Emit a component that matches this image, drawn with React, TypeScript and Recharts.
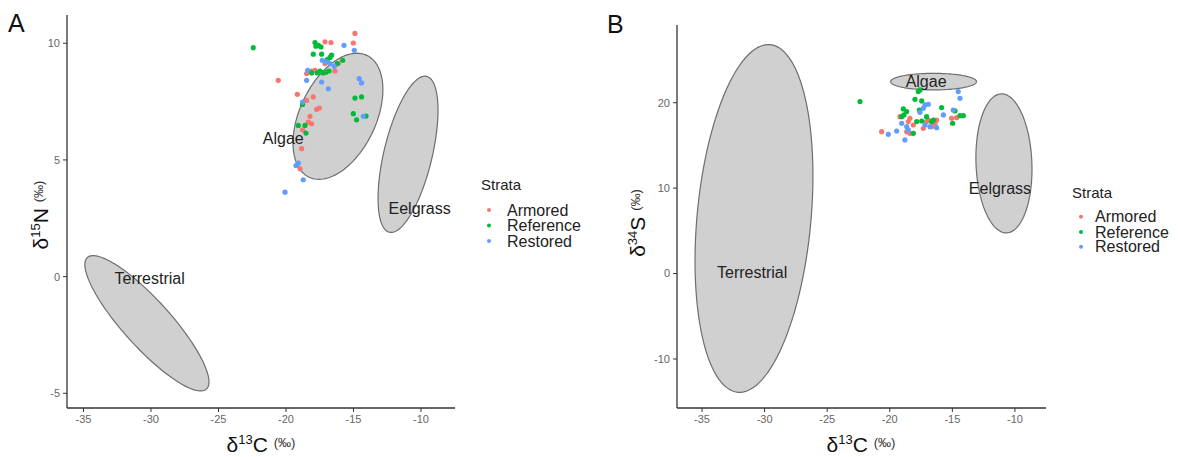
import React from 'react';
import { ScatterChart, Scatter, XAxis, YAxis } from 'recharts';

const FONT = '"Liberation Sans", Arial, sans-serif';

// Panel A: d13C vs d15N
const armoredCN = [
  { x: -14.89, y: 10.42 }, { x: -15.01, y: 10.01 }, { x: -17.11, y: 10.06 }, { x: -16.67, y: 10.03 },
  { x: -20.57, y: 8.41 }, { x: -18.47, y: 8.7 }, { x: -18.1, y: 8.81 }, { x: -17.85, y: 8.84 },
  { x: -16.37, y: 8.81 }, { x: -16.12, y: 9.13 }, { x: -17.11, y: 9.13 }, { x: -19.16, y: 7.81 },
  { x: -18.47, y: 7.55 }, { x: -17.98, y: 7.7 }, { x: -17.73, y: 7.17 }, { x: -17.53, y: 7.22 },
  { x: -18.22, y: 6.87 }, { x: -18.35, y: 6.62 }, { x: -18.1, y: 6.55 }, { x: -18.77, y: 6.29 },
  { x: -18.84, y: 5.48 }, { x: -18.96, y: 4.62 },
];
const referenceCN = [
  { x: -22.42, y: 9.81 }, { x: -17.85, y: 10.03 }, { x: -17.6, y: 9.91 }, { x: -17.41, y: 9.84 },
  { x: -17.78, y: 9.87 }, { x: -17.98, y: 9.53 }, { x: -17.36, y: 9.53 }, { x: -16.62, y: 9.49 },
  { x: -16.74, y: 9.39 }, { x: -16.94, y: 9.3 }, { x: -15.8, y: 9.27 }, { x: -16.2, y: 9.13 },
  { x: -18.1, y: 8.73 }, { x: -17.68, y: 8.73 }, { x: -17.48, y: 8.81 }, { x: -17.23, y: 8.73 },
  { x: -17.04, y: 8.76 }, { x: -16.81, y: 8.81 }, { x: -14.89, y: 7.65 }, { x: -14.4, y: 7.7 },
  { x: -15.01, y: 6.98 }, { x: -14.77, y: 6.72 }, { x: -14.07, y: 6.88 }, { x: -18.77, y: 7.38 },
  { x: -19.09, y: 6.48 }, { x: -18.59, y: 6.48 }, { x: -18.52, y: 6.15 },
];
const restoredCN = [
  { x: -15.7, y: 9.91 }, { x: -14.94, y: 9.7 }, { x: -17.31, y: 9.27 }, { x: -16.99, y: 9.2 },
  { x: -16.74, y: 9.13 }, { x: -16.42, y: 9.01 }, { x: -18.39, y: 8.84 }, { x: -18.47, y: 8.41 },
  { x: -17.36, y: 8.34 }, { x: -16.86, y: 8.05 }, { x: -14.57, y: 8.48 }, { x: -14.4, y: 8.3 },
  { x: -18.77, y: 7.48 }, { x: -14.27, y: 6.87 }, { x: -19.26, y: 4.76 }, { x: -19.09, y: 4.86 },
  { x: -18.72, y: 4.15 }, { x: -20.07, y: 3.62 },
];

// Panel B: d13C vs d34S
const armoredCS = [
  { x: -20.65, y: 16.61 }, { x: -19.19, y: 18.37 }, { x: -18.39, y: 18.18 }, { x: -18.52, y: 17.79 },
  { x: -18.12, y: 17.39 }, { x: -17.06, y: 17.79 }, { x: -16.92, y: 17.98 }, { x: -16.26, y: 17.98 },
  { x: -16.39, y: 17.59 }, { x: -16.66, y: 17.2 }, { x: -17.32, y: 17.0 }, { x: -18.65, y: 16.61 },
  { x: -18.39, y: 16.42 }, { x: -15.06, y: 18.18 }, { x: -14.66, y: 18.25 },
];
const referenceCS = [
  { x: -22.38, y: 20.13 }, { x: -17.72, y: 21.3 }, { x: -17.59, y: 21.5 }, { x: -17.99, y: 20.4 },
  { x: -17.45, y: 20.21 }, { x: -18.92, y: 19.27 }, { x: -18.65, y: 18.96 }, { x: -18.87, y: 18.57 },
  { x: -19.05, y: 18.37 }, { x: -15.86, y: 19.43 }, { x: -14.79, y: 19.04 }, { x: -14.39, y: 18.49 },
  { x: -14.13, y: 18.49 }, { x: -14.98, y: 17.59 }, { x: -16.52, y: 17.98 }, { x: -17.06, y: 18.37 },
  { x: -17.45, y: 17.86 }, { x: -17.85, y: 17.79 }, { x: -18.12, y: 16.42 }, { x: -16.66, y: 17.79 },
  { x: -17.64, y: 19.15 },
];
const restoredCS = [
  { x: -20.12, y: 16.3 }, { x: -19.45, y: 16.69 }, { x: -18.79, y: 15.64 }, { x: -19.05, y: 17.59 },
  { x: -18.65, y: 17.2 }, { x: -18.52, y: 16.81 }, { x: -17.19, y: 19.74 }, { x: -16.92, y: 19.82 },
  { x: -17.32, y: 19.35 }, { x: -17.59, y: 18.88 }, { x: -15.72, y: 18.57 }, { x: -14.93, y: 19.15 },
  { x: -14.53, y: 21.3 }, { x: -14.39, y: 20.52 }, { x: -17.19, y: 17.39 }, { x: -16.79, y: 17.2 },
  { x: -16.26, y: 17.08 },
];

// Source ellipses: centre and two half-axis vectors (data units)
const ellipsesA = [
  { name: 'Algae', cx: -16.15, cy: 6.87, ax: 2.14, ay: 2.61, bx: -2.55, by: 0.7 },
  { name: 'Eelgrass', cx: -10.96, cy: 5.24, ax: 1.38, ay: 3.34, bx: -1.74, by: 0.24 },
  { name: 'Terrestrial', cx: -30.3, cy: -2.0, ax: 4.41, ay: -2.82, bx: 1.3, by: 0.68 },
];
const ellipsesB = [
  { name: 'Algae', cx: -16.5, cy: 22.47, ax: 3.43, ay: 0, bx: 0, by: 0.97 },
  { name: 'Eelgrass', cx: -10.88, cy: 12.9, ax: -0.22, ay: 8.14, bx: 2.23, by: 0.13 },
  { name: 'Terrestrial', cx: -30.85, cy: 6.45, ax: 1.29, ay: 20.35, bx: -4.53, by: 0.62 },
];
const labelsA = [
  { name: 'Algae', x: -20.2, y: 5.9 },
  { name: 'Eelgrass', x: -10.1, y: 2.9 },
  { name: 'Terrestrial', x: -30.1, y: -0.1 },
];
const labelsB = [
  { name: 'Algae', x: -17.1, y: 22.5 },
  { name: 'Eelgrass', x: -11.2, y: 10.0 },
  { name: 'Terrestrial', x: -31.0, y: 0.1 },
];

const xTicks = [-35, -30, -25, -20, -15, -10];
const yTicksA = [-5, 0, 5, 10];
const yTicksB = [-10, 0, 10, 20];
const strata = ['Armored', 'Reference', 'Restored'];
const colors = ['#F8766D', '#00BA38', '#619CFF'];

type Ell = { name: string; cx: number; cy: number; ax: number; ay: number; bx: number; by: number };
function outline(e: Ell) {
  const pts: { x: number; y: number }[] = [];
  const n = 120;
  for (let i = 0; i <= n; i++) {
    const t = (2 * Math.PI * i) / n;
    pts.push({ x: e.cx + Math.cos(t) * e.ax + Math.sin(t) * e.bx, y: e.cy + Math.cos(t) * e.ay + Math.sin(t) * e.by });
  }
  return pts;
}

const dot = (color: string) => (p: any) => <circle cx={p.cx} cy={p.cy} r={2.6} fill={color} />;
const labelShape = (p: any) => (
  <text x={p.cx} y={p.cy} textAnchor="middle" dominantBaseline="central" fontSize={16} fill="#222" fontFamily={FONT}>
    {p.payload.name}
  </text>
);
const noShape = () => <g />;

const axisStroke = '#333';
const tickStyle = { fontSize: 11, fill: '#666', fontFamily: FONT };

function Panel(props: {
  width: number; yWidth: number; top: number; right: number;
  xDomain: [number, number]; yDomain: [number, number]; yTicks: number[];
  ellipses: Ell[]; labels: { name: string; x: number; y: number }[];
  series: { x: number; y: number }[][];
}) {
  return (
    <ScatterChart width={props.width} height={457} margin={{ top: props.top, right: props.right, bottom: 0, left: 0 }}>
      <XAxis type="number" dataKey="x" domain={props.xDomain} ticks={xTicks} allowDataOverflow height={49}
        axisLine={{ stroke: axisStroke, strokeWidth: 1.3 }} tickLine={{ stroke: axisStroke }} tickSize={4} tickMargin={3} tick={tickStyle} />
      <YAxis type="number" dataKey="y" domain={props.yDomain} ticks={props.yTicks} allowDataOverflow width={props.yWidth}
        axisLine={{ stroke: axisStroke, strokeWidth: 1.3 }} tickLine={{ stroke: axisStroke }} tickSize={4} tickMargin={3} tick={tickStyle} />
      {props.ellipses.map((e) => (
        <Scatter key={e.name} data={outline(e)} isAnimationActive={false} shape={noShape} legendType="none"
          line={{ fill: '#D0D0D0', stroke: '#6E6E6E', strokeWidth: 1.2 }} lineType="joint" />
      ))}
      <Scatter data={props.labels} isAnimationActive={false} shape={labelShape} legendType="none" />
      {props.series.map((s, i) => (
        <Scatter key={strata[i]} name={strata[i]} data={s} isAnimationActive={false} shape={dot(colors[i])} />
      ))}
    </ScatterChart>
  );
}

function Legend2(props: { titleX: number; titleY: number; dotX: number; textX: number; rows: number[] }) {
  return (
    <g fontFamily={FONT}>
      <text x={props.titleX} y={props.titleY} fontSize={15} fill="#222">Strata</text>
      {strata.map((s, i) => (
        <g key={s}>
          <circle cx={props.dotX} cy={props.rows[i]} r={2} fill={colors[i]} />
          <text x={props.textX} y={props.rows[i] + 5.7} fontSize={16} fill="#222">{s}</text>
        </g>
      ))}
    </g>
  );
}

export default function App() {
  return (
    <div style={{ position: 'absolute', left: 0, top: 0, width: 1180, height: 457, background: '#fff' }}>
      <div style={{ position: 'absolute', left: 0, top: 0 }}>
        <Panel width={600} yWidth={67} top={15} right={145} xDomain={[-36.22, -7.48]} yDomain={[-5.63, 11.21]}
          yTicks={yTicksA} ellipses={ellipsesA} labels={labelsA} series={[armoredCN, referenceCN, restoredCN]} />
      </div>
      <div style={{ position: 'absolute', left: 600, top: 0 }}>
        <Panel width={580} yWidth={77} top={25} right={134} xDomain={[-37.0, -7.52]} yDomain={[-15.74, 29.1]}
          yTicks={yTicksB} ellipses={ellipsesB} labels={labelsB} series={[armoredCS, referenceCS, restoredCS]} />
      </div>
      <svg width={1180} height={457} style={{ position: 'absolute', left: 0, top: 0, pointerEvents: 'none' }}>
        <g fontFamily={FONT} fill="#111">
          <text x={8} y={32} fontSize={25}>A</text>
          <text x={607} y={33} fontSize={25}>B</text>
          <text x={261} y={452} textAnchor="middle" fontSize={21}>
            δ<tspan fontSize={13} dy={-8}>13</tspan><tspan dy={8}>C </tspan><tspan fontSize={13} dy={-5} fill="#333">(‰)</tspan>
          </text>
          <text x={861} y={452} textAnchor="middle" fontSize={21}>
            δ<tspan fontSize={13} dy={-8}>13</tspan><tspan dy={8}>C </tspan><tspan fontSize={13} dy={-5} fill="#333">(‰)</tspan>
          </text>
          <text x={48} y={215} textAnchor="middle" fontSize={21} transform="rotate(-90 48 215)">
            δ<tspan fontSize={13} dy={-8}>15</tspan><tspan dy={8}>N  </tspan><tspan fontSize={13} dy={-5} fill="#333">(‰)</tspan>
          </text>
          <text x={645} y={223} textAnchor="middle" fontSize={21} transform="rotate(-90 645 223)">
            δ<tspan fontSize={13} dy={-8}>34</tspan><tspan dy={8}>S </tspan><tspan fontSize={13} dy={-5} fill="#333">(‰)</tspan>
          </text>
        </g>
        <Legend2 titleX={481} titleY={190} dotX={489} textX={507} rows={[210, 225.5, 241]} />
        <Legend2 titleX={1072} titleY={198} dotX={1081} textX={1095} rows={[216.7, 232, 246.7]} />
      </svg>
    </div>
  );
}
